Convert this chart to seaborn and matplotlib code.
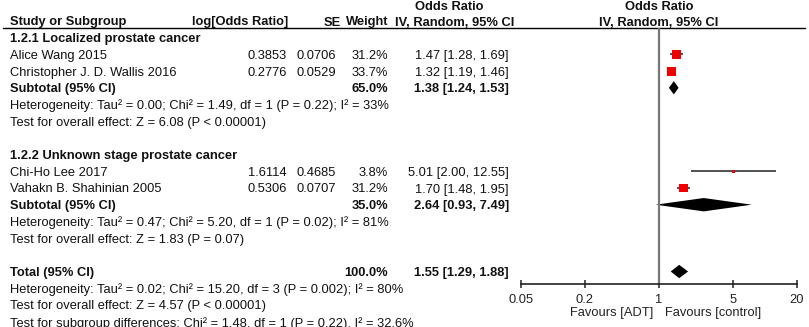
import numpy as np
import pandas as pd
import matplotlib
matplotlib.use("Agg")
import matplotlib.pyplot as plt
import seaborn as sns

## Data
studies = ["Alice Wang 2015", "Christopher J. D. Wallis 2016", "Chi-Ho Lee 2017", "Vahakn B. Shahinian 2005"]
subgroup = [0, 0, 1, 1]
log_or = [0.3853, 0.2776, 1.6114, 0.5306]
se = [0.0706, 0.0529, 0.4685, 0.0707]
weight = [31.2, 33.7, 3.8, 31.2]
or_est = [1.47, 1.32, 5.01, 1.70]
or_lo = [1.28, 1.19, 2.00, 1.48]
or_hi = [1.69, 1.46, 12.55, 1.95]

group_names = ["1.2.1 Localized prostate cancer", "1.2.2 Unknown stage prostate cancer"]
group_weight = [65.0, 35.0]
group_est = [1.38, 2.64]
group_lo = [1.24, 0.93]
group_hi = [1.53, 7.49]
group_het = ["Heterogeneity: Tau² = 0.00; Chi² = 1.49, df = 1 (P = 0.22); I² = 33%",
             "Heterogeneity: Tau² = 0.47; Chi² = 5.20, df = 1 (P = 0.02); I² = 81%"]
group_test = ["Test for overall effect: Z = 6.08 (P < 0.00001)",
              "Test for overall effect: Z = 1.83 (P = 0.07)"]

total_weight = 100.0
total_est, total_lo, total_hi = 1.55, 1.29, 1.88
total_notes = ["Heterogeneity: Tau² = 0.02; Chi² = 15.20, df = 3 (P = 0.002); I² = 80%",
               "Test for overall effect: Z = 4.57 (P < 0.00001)",
               "Test for subgroup differences: Chi² = 1.48, df = 1 (P = 0.22), I² = 32.6%"]

xticks = [0.05, 0.2, 1, 5, 20]
xtick_labels = ["0.05", "0.2", "1", "5", "20"]
favours = ["Favours [ADT]", "Favours [control]"]

## Style
sns.set_theme(style="white")
plt.rcParams["font.family"] = ["Liberation Sans", "DejaVu Sans"]
FS = 9.3
W, H = 809, 327
ROW0, DY = 21, 16.7          # pixel y of header row, pixels per row
ylim = ((H - ROW0) / DY, -ROW0 / DY)

fig = plt.figure(figsize=(W / 100, H / 100), dpi=100)
ax = fig.add_axes([0, 0, 1, 1])
ax.set_xlim(0, W)
ax.set_ylim(*ylim)
ax.axis("off")

axf = fig.add_axes([521 / W, 0, 276 / W, 1])
axf.set_xscale("log")
axf.set_xlim(0.05, 20)
axf.set_ylim(*ylim)
axf.patch.set_alpha(0)

def txt(x, r, s, ha="left", bold=False):
    ax.text(x, r, s, ha=ha, va="center_baseline", fontsize=FS,
            fontweight="bold" if bold else "normal", color="#111111")

# headers
txt(449, -0.9, "Odds Ratio", ha="center", bold=True)
txt(659, -0.9, "Odds Ratio", ha="center", bold=True)
txt(10, 0, "Study or Subgroup", bold=True)
txt(288, 0, "log[Odds Ratio]", ha="right", bold=True)
txt(341, 0, "SE", ha="right", bold=True)
txt(388, 0, "Weight", ha="right", bold=True)
txt(455, 0, "IV, Random, 95% CI", ha="center", bold=True)
txt(659, 0, "IV, Random, 95% CI", ha="center", bold=True)
ax.plot([3, 805], [0.42, 0.42], color="black", lw=1)

# build study table
df = pd.DataFrame({"study": studies, "group": subgroup, "log_or": log_or, "se": se,
                   "weight": weight, "est": or_est, "lo": or_lo, "hi": or_hi})

def diamond(r, lo, est, hi, h=0.4):
    axf.fill([lo, est, hi, est], [r, r - h, r, r + h], color="black", lw=0)

r = 1
rows = []
for g in range(len(group_names)):
    txt(10, r, group_names[g], bold=True)
    r += 1
    for _, s in df[df["group"] == g].iterrows():
        txt(10, r, s["study"])
        txt(287, r, f"{s['log_or']:.4f}", ha="right")
        txt(336, r, f"{s['se']:.4f}", ha="right")
        txt(388, r, f"{s['weight']:.1f}%", ha="right")
        txt(509, r, f"{s['est']:.2f} [{s['lo']:.2f}, {s['hi']:.2f}]", ha="right")
        rows.append(r)
        r += 1
    txt(10, r, "Subtotal (95% CI)", bold=True)
    txt(388, r, f"{group_weight[g]:.1f}%", ha="right", bold=True)
    txt(509, r, f"{group_est[g]:.2f} [{group_lo[g]:.2f}, {group_hi[g]:.2f}]", ha="right", bold=True)
    diamond(r, group_lo[g], group_est[g], group_hi[g])
    r += 1
    txt(10, r, group_het[g])
    txt(10, r + 1, group_test[g])
    r += 3

df["row"] = rows
txt(10, r, "Total (95% CI)", bold=True)
txt(388, r, f"{total_weight:.1f}%", ha="right", bold=True)
txt(509, r, f"{total_est:.2f} [{total_lo:.2f}, {total_hi:.2f}]", ha="right", bold=True)
diamond(r, total_lo, total_est, total_hi)
for i, note in enumerate(total_notes):
    txt(10, r + 1 + i, note)

# study CIs and weighted boxes
axf.hlines(df["row"], df["lo"], df["hi"], color="#222222", lw=1.1)
sns.scatterplot(data=df, x="est", y="row", marker="s", s=df["weight"] * 1.2,
                color="#ee0000", linewidth=0, legend=False, ax=axf, zorder=3)
axf.set_ylim(*ylim)
axf.set_xlabel("")
axf.set_ylabel("")

# line of no effect and axis
axis_row = 15.75
axf.vlines(1, 0.42, axis_row, color="#777777", lw=1.6)
for sp in ["top", "right", "left"]:
    axf.spines[sp].set_visible(False)
axf.spines["bottom"].set_position(("data", axis_row))
axf.spines["bottom"].set_color("#222222")
axf.spines["bottom"].set_linewidth(1.2)
axf.set_xticks(xticks)
axf.set_xticklabels(xtick_labels)
axf.minorticks_off()
axf.tick_params(axis="x", direction="inout", length=6, width=1.1, pad=4,
                labelsize=FS, colors="#222222", bottom=True)
axf.set_yticks([])
axf.text(0.88, 17.4, favours[0], ha="right", va="center_baseline", fontsize=FS, color="#222222")
axf.text(1.14, 17.4, favours[1], ha="left", va="center_baseline", fontsize=FS, color="#222222")

fig.savefig("out.png", dpi=100)
